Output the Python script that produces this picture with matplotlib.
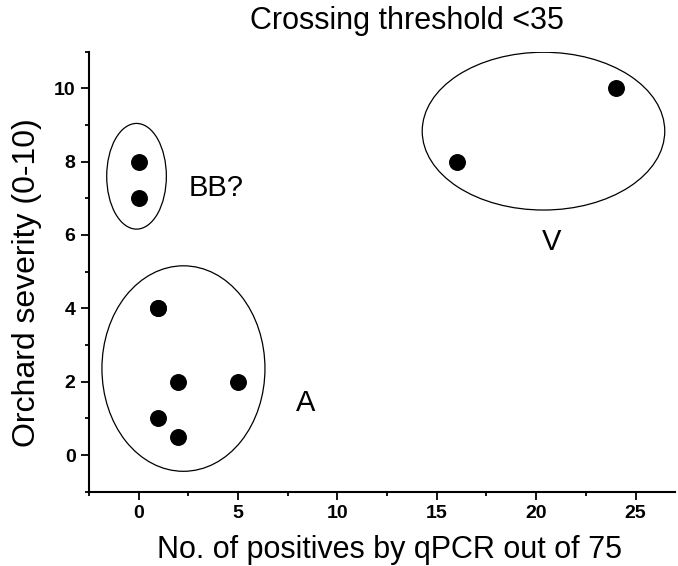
import matplotlib
matplotlib.use("Agg")
import matplotlib.pyplot as plt
from matplotlib.patches import Ellipse
from matplotlib.ticker import MultipleLocator

plt.rcParams["font.family"] = ["Liberation Sans", "DejaVu Sans"]

# data points (positives by qPCR, orchard severity)
positives = [0, 0, 1, 1, 2, 5, 1, 2, 16, 24]
severity = [8, 7, 4, 4, 2, 2, 1, 0.5, 8, 10]

# group outlines: (centre x, centre y, width, height) in data units
group_names = ["BB?", "A", "V"]
group_ellipses = [(-0.1, 7.6, 3.0, 2.88), (2.26, 2.36, 8.2, 5.6), (20.37, 8.83, 12.2, 4.3)]
group_label_pos = [(3.92, 7.28), (8.4, 1.43), (20.77, 5.82)]

fig = plt.figure(figsize=(6.78, 5.66), dpi=100)
ax = fig.add_axes([0.131, 0.131, 0.865, 0.778])

ax.scatter(positives, severity, s=125, color="black", zorder=3)

for (cx, cy, w, h) in group_ellipses:
    ax.add_patch(Ellipse((cx, cy), w, h, fill=False, edgecolor="black", lw=0.9))

for name, (lx, ly) in zip(group_names, group_label_pos):
    ax.text(lx, ly, name, fontsize=21, ha="center", va="center")

ax.set_xlim(-2.5, 27)
ax.set_ylim(-1, 11)
ax.xaxis.set_major_locator(MultipleLocator(5))
ax.xaxis.set_minor_locator(MultipleLocator(2.5))
ax.yaxis.set_major_locator(MultipleLocator(2))
ax.yaxis.set_minor_locator(MultipleLocator(1))

for side in ["top", "right"]:
    ax.spines[side].set_visible(False)
for side in ["left", "bottom"]:
    ax.spines[side].set_linewidth(1.5)

ax.tick_params(which="major", length=6, width=1.3, pad=3.5, labelsize=14)
ax.tick_params(which="minor", length=3, width=1.3)
for lbl in ax.get_xticklabels() + ax.get_yticklabels():
    lbl.set_fontweight("bold")

fig.text(0.5996, 0.948, "Crossing threshold <35", fontsize=22, ha="center", va="baseline")
fig.text(0.574, 0.014, "No. of positives by qPCR out of 75", fontsize=22, ha="center", va="baseline")
fig.text(0.040, 0.50, "Orchard severity (0-10)", fontsize=23, ha="center", va="center", rotation=90)

fig.savefig("out.png", dpi=100)
